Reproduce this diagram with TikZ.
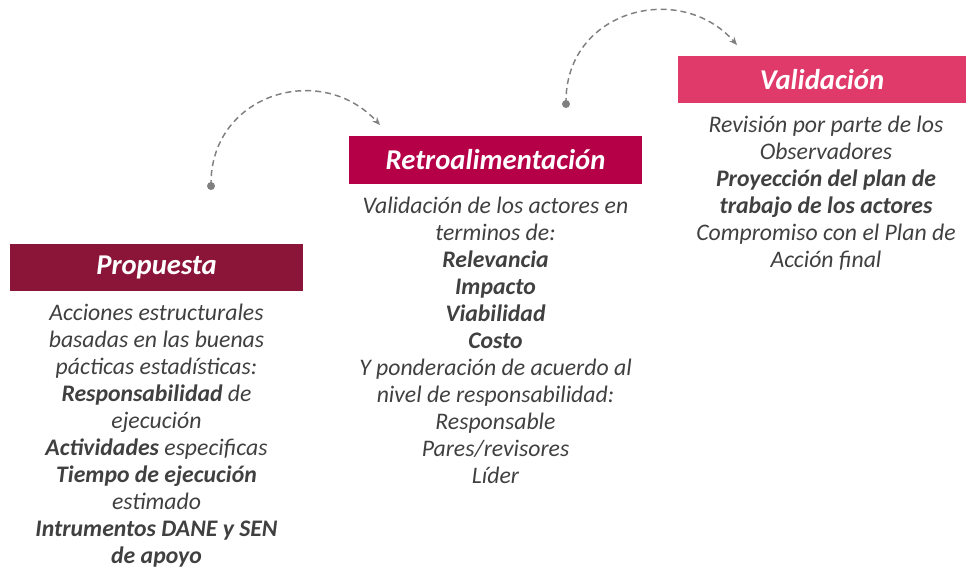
\documentclass[tikz,border=0pt]{standalone}
\usepackage{fontspec}
\setmainfont{Carlito}
\usetikzlibrary{positioning,arrows.meta}
\definecolor{propcolor}{RGB}{139,21,56}
\definecolor{retrocolor}{RGB}{181,0,72}
\definecolor{validcolor}{RGB}{224,58,106}
\definecolor{bodygray}{RGB}{64,64,64}
\definecolor{arrowgray}{RGB}{128,128,128}
\tikzset{
  stagebar/.style={rectangle,inner sep=0pt,text=white,
    font=\fontsize{21.5}{24}\selectfont\bfseries\itshape},
  stagetext/.style={align=center,inner sep=0pt,text=bodygray,
    font=\fontsize{17.8}{20.25}\selectfont\itshape},
  flowdot/.style={circle,fill=arrowgray,inner sep=0pt,minimum size=6pt},
  flowarrow/.style={arrowgray,line width=1.1pt,dash pattern=on 4.5pt off 3pt,
    -{Stealth[length=6pt,width=5pt]}}
}

\begin{document}
\begin{tikzpicture}[x=0.75pt,y=-0.75pt]
\useasboundingbox (0,0) rectangle (966,571);

% bars
\node[stagebar,fill=propcolor,minimum width=293*0.75pt,minimum height=47*0.75pt] (prop) at (156.5,267.5) {Propuesta};
\node[stagebar,fill=retrocolor,minimum width=293*0.75pt,minimum height=48*0.75pt] (retro) at (495.5,160) {Retroalimentación};
\node[stagebar,fill=validcolor,minimum width=288*0.75pt,minimum height=47*0.75pt] (valid) at (822,79.5) {Validación};

% texts
\node[stagetext,below=9pt of prop] (proptext) {Acciones estructurales\\
basadas en las buenas\\
pácticas estadísticas:\\
\textbf{Responsabilidad} de\\
ejecución\\
\textbf{Actividades} especificas\\
\textbf{Tiempo de ejecución}\\
estimado\\
\textbf{Intrumentos DANE y SEN}\\
\textbf{de apoyo}};

\node[stagetext,below=9pt of retro] (retrotext) {Validación de los actores en\\
terminos de:\\
\textbf{Relevancia}\\
\textbf{Impacto}\\
\textbf{Viabilidad}\\
\textbf{Costo}\\
Y ponderación de acuerdo al\\
nivel de responsabilidad:\\
Responsable\\
Pares/revisores\\
Líder};

\node[stagetext,below=9pt of valid,xshift=3pt] (validtext) {Revisión por parte de los\\
Observadores\\
\textbf{Proyección del plan de}\\
\textbf{trabajo de los actores}\\
Compromiso con el Plan de\\
Acción final};

% arrows
\node[flowdot] (dot1) at (211,186) {};
\coordinate (end1) at (380,125);
\draw[flowarrow] (dot1.center) .. controls (209,95) and (320,60) .. (end1);

\node[flowdot] (dot2) at (566,104) {};
\coordinate (end2) at (737,45);
\draw[flowarrow] (dot2.center) .. controls (564,10) and (680,-20) .. (end2);

\end{tikzpicture}
\end{document}
